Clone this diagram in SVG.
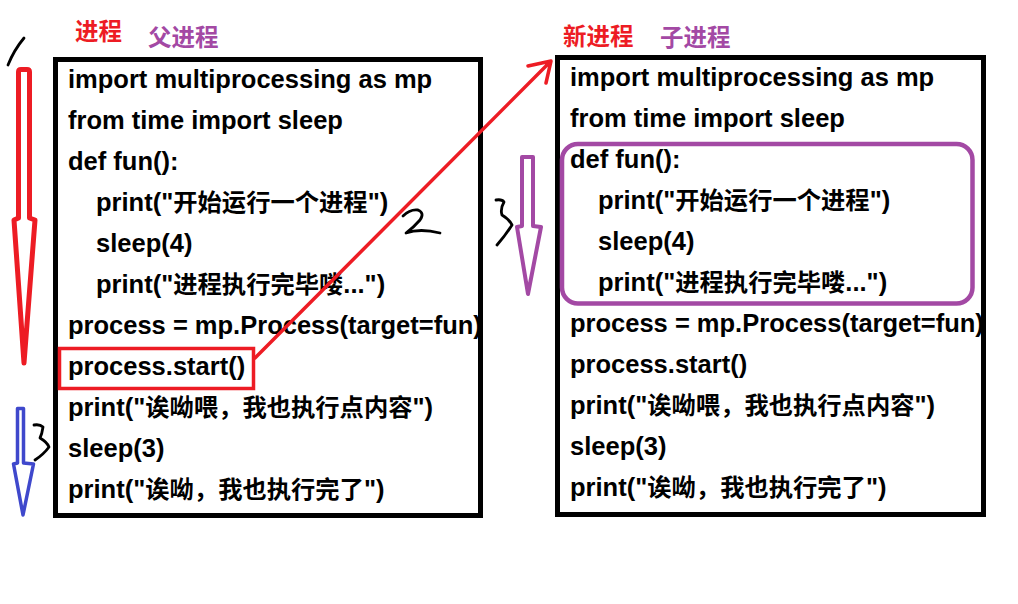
<svg xmlns="http://www.w3.org/2000/svg" width="1018" height="604" viewBox="0 0 1018 604">
<style>
.code{font-family:"Liberation Sans","Noto Sans CJK SC",sans-serif;font-weight:bold;font-size:25.5px;fill:#000}
.cjk{font-size:24.3px}
.lbl{font-family:"Noto Sans CJK SC",sans-serif;font-weight:bold;font-size:23.5px}
.box{fill:#fff;stroke:#000;stroke-width:5}
.ink{fill:none;stroke:#000;stroke-width:2.8;stroke-linecap:round;stroke-linejoin:round}
</style>
<rect width="1018" height="604" fill="#fff"/>
<g id="labels">
<text class="lbl" x="75" y="40" fill="#ed1c24">进程</text>
<text class="lbl" x="148" y="46" fill="#a349a4">父进程</text>
<text class="lbl" x="563" y="45" fill="#ed1c24">新进程</text>
<text class="lbl" x="660" y="46" fill="#a349a4">子进程</text>
</g>
<g id="parent">
<rect class="box" x="55.5" y="59.5" width="425" height="456"/>
<text class="code" x="68" y="88">import multiprocessing as mp</text>
<text class="code" x="68" y="129">from time import sleep</text>
<text class="code" x="68" y="170">def fun():</text>
<text class="code" x="96" y="211">print("<tspan class="cjk">开始运行一个进程</tspan>")</text>
<text class="code" x="96" y="252">sleep(4)</text>
<text class="code" x="96" y="293">print("<tspan class="cjk">进程执行完毕喽</tspan>...")</text>
<text class="code" x="68" y="334">process = mp.Process(target=fun)</text>
<text class="code" x="68" y="375">process.start()</text>
<text class="code" x="68" y="416">print("<tspan class="cjk">诶呦喂，我也执行点内容</tspan>")</text>
<text class="code" x="68" y="457">sleep(3)</text>
<text class="code" x="68" y="498">print("<tspan class="cjk">诶呦，我也执行完了</tspan>")</text>
<rect x="59.5" y="348.5" width="194" height="40" fill="none" stroke="#ed1c24" stroke-width="3.5"/>
</g>
<g id="child">
<rect class="box" x="557.5" y="57.5" width="426" height="457"/>
<text class="code" x="570" y="86">import multiprocessing as mp</text>
<text class="code" x="570" y="127">from time import sleep</text>
<text class="code" x="570" y="168">def fun():</text>
<text class="code" x="598" y="209">print("<tspan class="cjk">开始运行一个进程</tspan>")</text>
<text class="code" x="598" y="250">sleep(4)</text>
<text class="code" x="598" y="291">print("<tspan class="cjk">进程执行完毕喽</tspan>...")</text>
<text class="code" x="570" y="332">process = mp.Process(target=fun)</text>
<text class="code" x="570" y="373">process.start()</text>
<text class="code" x="570" y="414">print("<tspan class="cjk">诶呦喂，我也执行点内容</tspan>")</text>
<text class="code" x="570" y="455">sleep(3)</text>
<text class="code" x="570" y="496">print("<tspan class="cjk">诶呦，我也执行完了</tspan>")</text>
<rect x="562" y="144" width="410.5" height="159.5" rx="16" fill="none" stroke="#a349a4" stroke-width="4.5"/>
</g>
<g id="connectors">
<path d="M255,358 L550,62 M528,66 L551,61 L546,83" fill="none" stroke="#ed1c24" stroke-width="3.5" stroke-linecap="round" stroke-linejoin="round"/>
<path d="M18.5,218 L18.5,72 Q18.5,69.5 21,69.5 L27,69.5 Q29.5,69.5 29.5,72 L29.5,218 L35,220 L24,363 L14,220 Z" fill="none" stroke="#ed1c24" stroke-width="5" stroke-linejoin="round"/>
<path d="M17.5,463 L17.5,408.5 L23.5,408.5 L23.5,463 L33.5,464 L23,515 L13.5,464 Z" fill="none" stroke="#3f48cc" stroke-width="3.5" stroke-linejoin="round"/>
<path d="M522,226 L522,157 L533,157 L533,226 L541,227 L528,294 L517,227 Z" fill="none" stroke="#a349a4" stroke-width="4" stroke-linejoin="round"/>
</g>
<g id="marks">
<path class="ink" d="M8,65 Q14,50 24,38"/>
<path class="ink" d="M34,425 Q40,424 43,427 Q42,434 40,438 Q47,442 49,447 Q44,454 35,460"/>
<path class="ink" d="M403,216 Q410,209 418,210 Q425,213 420,220 Q414,227 406,233 Q420,228 440,233"/>
<path class="ink" d="M496,200 Q502,199 504,202 Q500,209 502,215 Q509,219 512,225 Q505,236 497,245"/>
</g>
</svg>
